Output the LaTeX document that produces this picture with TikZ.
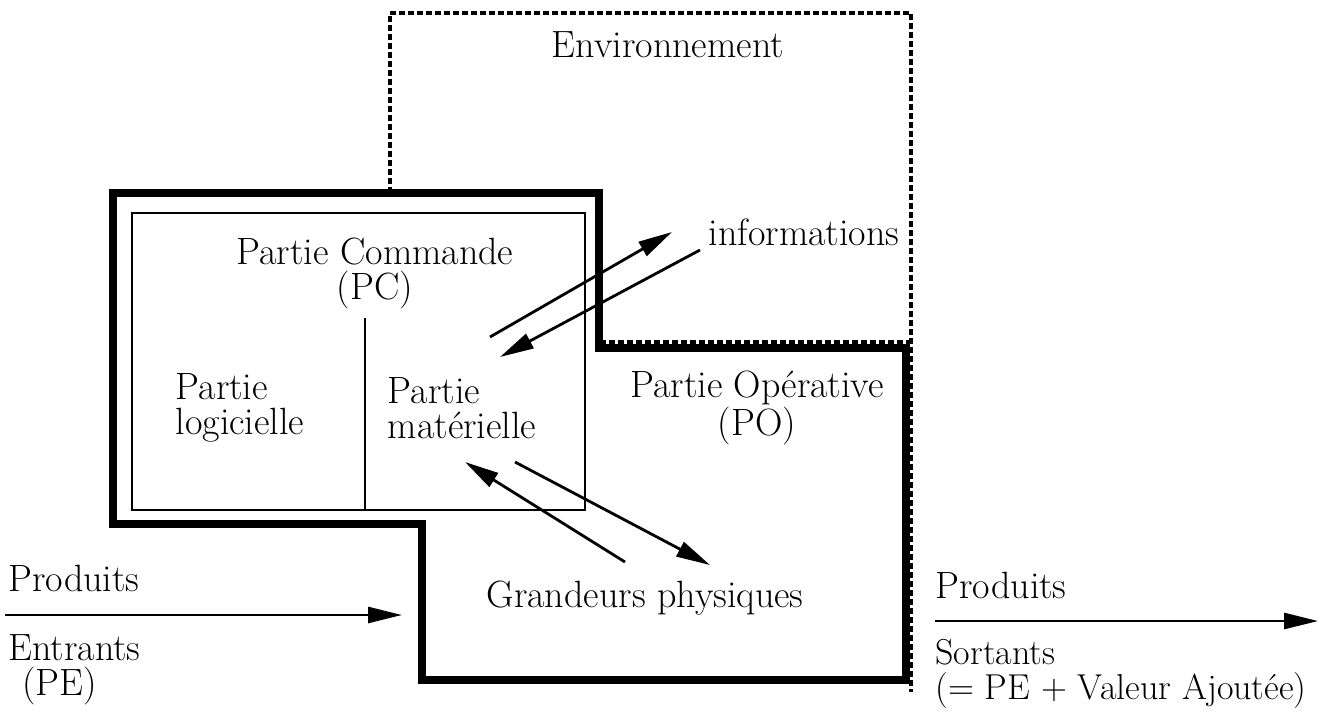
\documentclass[tikz,border=0pt]{standalone}
\usepackage{fontspec}
\usetikzlibrary{arrows.meta}

\begin{document}
\begin{tikzpicture}[x=0.5pt,y=-0.5pt,
  every node/.style={font=\fontsize{19}{17.5}\selectfont,inner sep=0pt},
  frame/.style={line width=4pt,line join=miter},
  envline/.style={line width=1.7pt,dash pattern=on 3pt off 1.5pt},
  flow/.style={line width=1.4pt,-{Triangle[length=17pt,width=8pt]}}]
\useasboundingbox (0,0) rectangle (1320,714);
\draw[envline] (390,193) -- (390,13) -- (911,13) -- (911,692);
\draw[envline] (600,342) -- (911,342);
\draw[frame] (113,193) -- (599,193) -- (599,348) -- (906,348) -- (906,680)
  -- (422,680) -- (422,524) -- (113,524) -- cycle;
\draw[line width=1pt] (132,213) rectangle (585,510);
\node (env) at (668,45) {Environnement};
\node [align=center] (pc) at (375,273) {Partie Commande\\(PC)};
\draw[line width=1pt] (365,318) -- (365,510);
\node [align=left] (log) at (240,408) {Partie\\logicielle};
\node [align=left] (mat) at (462,408) {Partie\\matérielle};
\node [align=center] (po) at (757,408) {Partie Opérative\\(PO)};
\node (info) at (804,232) {informations};
\node (gp) at (645,598) {Grandeurs physiques};
\coordinate (i1) at (490,337);
\coordinate (i2) at (672,232);
\coordinate (i3) at (700,250);
\coordinate (i4) at (500,357);
\draw[flow] (i1) -- (i2);
\draw[flow] (i3) -- (i4);
\coordinate (g1) at (625,562);
\coordinate (g2) at (465,462);
\coordinate (g3) at (515,462);
\coordinate (g4) at (710,565);
\draw[flow] (g1) -- (g2);
\draw[flow] (g3) -- (g4);
\node [anchor=west] (pin) at (8,578) {Produits};
\node [anchor=north west,align=left] (ent) at (8,634) {Entrants\\\hspace*{7pt}(PE)};
\coordinate (a1) at (5,615);
\coordinate (a2) at (402,615);
\draw[flow] (a1) -- (a2);
\node [anchor=west] (pout) at (935,585) {Produits};
\node [anchor=north west,align=left,font=\fontsize{18}{17.5}\selectfont] (sor) at (935,639) {Sortants\\(= PE + Valeur Ajoutée)};
\coordinate (b1) at (935,621);
\coordinate (b2) at (1318,621);
\draw[flow] (b1) -- (b2);
\end{tikzpicture}
\end{document}
